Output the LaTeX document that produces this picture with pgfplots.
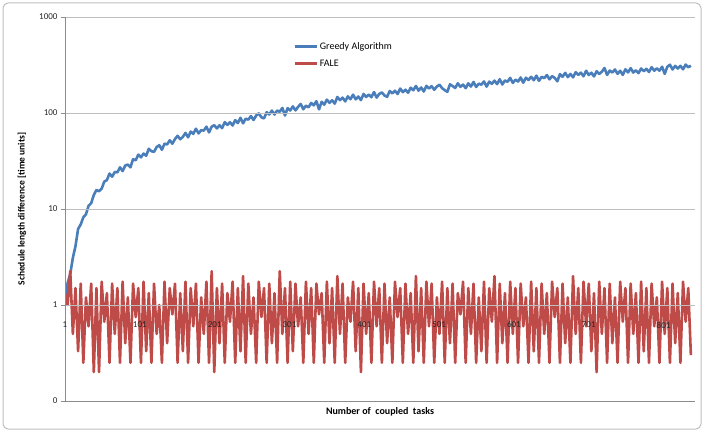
\documentclass[border=0pt]{standalone}
\usepackage{fontspec}
\setmainfont{Carlito}
\usepackage{pgfplots}
\usepackage{pgfplotstable}
\pgfplotsset{compat=1.18}
\definecolor{greedy}{HTML}{4A7EBB}
\definecolor{fale}{HTML}{BE4B48}
\definecolor{gridc}{HTML}{BEBEBE}
\definecolor{axisc}{HTML}{8C8C8C}
\pgfplotstableread{
g f
1.0 1.33
1.7 1.0
2.1 2.25
3.1 0.5
4.1 1.5
6.2 0.33
6.9 1.67
8.2 0.25
8.8 1.2
10.8 0.6
11.5 1.67
14.0 0.2
15.8 1.5
15.3 0.2
16.3 1.75
19.3 0.67
20.0 1.33
23.4 0.25
21.7 1.67
24.3 0.5
24.1 1.5
27.2 0.25
24.8 1.75
28.4 0.4
29.0 1.2
27.2 0.25
33.0 1.67
32.2 0.75
36.9 1.5
34.5 0.25
37.8 1.75
35.9 0.33
42.4 1.33
40.0 0.25
39.4 1.67
44.2 0.5
46.2 1.0
41.4 0.25
47.9 1.75
47.0 0.4
52.0 1.5
47.9 0.8
53.6 1.67
57.8 0.25
53.3 1.33
56.4 0.33
62.0 1.75
55.8 0.25
64.0 1.5
60.6 0.6
68.6 1.67
61.3 0.25
66.2 1.2
65.7 0.5
72.1 1.75
62.8 0.25
72.1 2.25
74.6 0.2
69.1 1.5
74.5 0.4
69.6 1.67
80.3 0.25
75.2 1.33
80.1 0.67
74.1 1.75
84.3 0.25
78.6 1.5
89.1 0.33
78.1 2.0
87.2 0.25
85.3 1.67
92.9 0.5
84.6 1.2
94.2 0.25
99.0 1.75
90.2 0.75
87.9 1.5
101.9 0.25
96.5 1.67
106.0 0.4
96.4 1.33
106.1 0.25
103.0 2.25
112.9 0.5
94.2 1.5
112.3 0.25
106.2 1.75
117.1 0.33
106.4 1.67
115.8 0.6
124.2 1.2
109.5 0.25
119.2 1.75
114.7 0.5
127.1 1.5
120.1 0.25
132.7 1.67
109.2 0.8
130.8 1.33
122.1 0.25
137.8 1.75
127.6 0.4
135.7 1.5
125.1 0.25
146.9 2.0
136.1 0.5
144.6 1.67
132.1 0.25
149.1 1.2
139.2 0.67
155.2 1.75
138.7 0.33
148.5 1.5
136.2 0.2
157.9 1.67
147.0 0.5
155.5 1.33
145.9 0.25
165.2 1.75
144.8 0.6
158.1 1.5
163.8 0.25
152.3 1.67
147.4 0.4
169.6 1.2
160.4 0.25
170.6 1.75
157.7 0.75
179.8 1.5
164.9 0.25
174.9 1.67
162.6 0.5
183.2 1.33
172.5 0.25
191.2 2.0
170.9 0.33
184.4 1.5
167.4 0.25
191.9 1.75
180.2 0.6
190.3 1.67
174.8 0.25
188.7 1.2
197.2 0.5
181.4 1.75
173.0 0.25
166.3 1.5
199.0 0.4
190.9 1.67
182.4 0.25
203.8 1.33
187.2 0.8
197.8 1.75
181.4 0.25
203.7 1.5
188.7 0.5
210.6 1.67
186.7 0.25
202.0 1.2
197.5 0.33
213.1 1.75
188.3 0.25
212.2 1.5
201.4 0.67
217.4 2.0
200.2 0.25
224.7 1.67
198.3 0.4
218.4 1.33
211.4 0.25
232.2 1.75
205.7 0.5
222.4 1.5
212.9 0.25
234.3 1.67
206.9 0.6
233.0 1.2
221.0 0.25
238.4 1.75
219.4 0.33
245.0 1.5
216.2 0.25
238.4 1.67
230.7 0.5
248.6 1.33
224.2 0.25
242.3 1.75
231.8 0.75
214.0 1.5
254.1 0.25
238.6 1.67
262.2 0.4
236.6 1.2
255.4 0.25
235.0 2.0
266.1 0.5
249.5 1.5
263.1 0.25
241.3 1.75
275.4 0.6
248.8 1.67
262.7 0.33
240.4 1.33
272.5 0.2
255.3 1.75
269.3 0.5
294.0 1.5
249.1 0.25
276.6 1.67
264.3 0.4
284.1 1.2
255.6 0.25
275.4 1.75
249.3 0.67
285.6 1.5
264.8 0.25
293.2 1.67
264.0 0.5
278.8 1.33
259.9 0.25
290.9 1.75
272.9 0.33
288.4 1.5
267.4 0.25
300.0 1.67
276.0 0.6
291.7 1.2
276.0 0.25
303.5 1.75
255.6 0.5
303.2 1.5
318.3 0.25
284.2 1.67
309.8 0.4
290.6 1.33
309.9 0.25
285.0 1.75
319.6 0.67
300.0 1.5
311.1 0.3
}\data
\begin{document}
\begin{tikzpicture}
\path[use as bounding box] (0pt,0pt) rectangle (704pt,432pt);
\draw[color=gridc, rounded corners=5pt, line width=1pt] (3pt,3pt) rectangle (701pt,429pt);
\begin{axis}[
  axis on top,
  at={(65pt,31pt)}, anchor=south west, scale only axis,
  width=630pt, height=384pt,
  ymode=log, ymin=0.1, ymax=1000, xmin=1, xmax=843,
  ytick={0.1,1,10,100,1000}, yticklabels={0,1,10,100,1000},
  yminorticks=false,
  xtick={1,101,201,301,401,501,601,701,801},
  xticklabels={1,101,201,301,401,501,601,701,801},
  ymajorgrids, grid style={color=gridc, line width=0.8pt},
  axis lines*=left, axis line style={color=axisc, line width=0.9pt},
  xtick style={draw=none}, ytick style={color=axisc, line width=0.9pt},
  tick align=outside, major tick length=4pt,
  tick label style={font=\fontsize{9}{10}\selectfont, text=black!85},
  xticklabel style={anchor=center, yshift=80pt},
  xlabel={Number of\ \ coupled\ \ tasks},
  ylabel={Schedule length difference [time units]},
  xlabel style={at={(axis description cs:0.5,-0.0286)}, anchor=center, font=\bfseries\fontsize{10}{12}\selectfont},
  ylabel style={at={(axis description cs:-0.0683,0.5)}, anchor=center, font=\bfseries\fontsize{9.5}{11}\selectfont},
  legend style={at={(axis description cs:0.362,0.94)}, anchor=north west, draw=none, fill=none,
    font=\fontsize{10}{12}\selectfont, row sep=5pt, inner sep=0pt},
  legend cell align=left,
  legend image code/.code={\draw[#1, line width=2.6pt] (0pt,0pt) -- (22pt,0pt);},
]
\addplot[greedy, line width=2.6pt, line join=round] table[x expr=3.5*\coordindex+1, y=g]{\data};
\addlegendentry{Greedy Algorithm}
\addplot[fale, line width=2.6pt, line join=round] table[x expr=3.5*\coordindex+1, y=f]{\data};
\addlegendentry{FALE}
\end{axis}
\end{tikzpicture}
\end{document}
